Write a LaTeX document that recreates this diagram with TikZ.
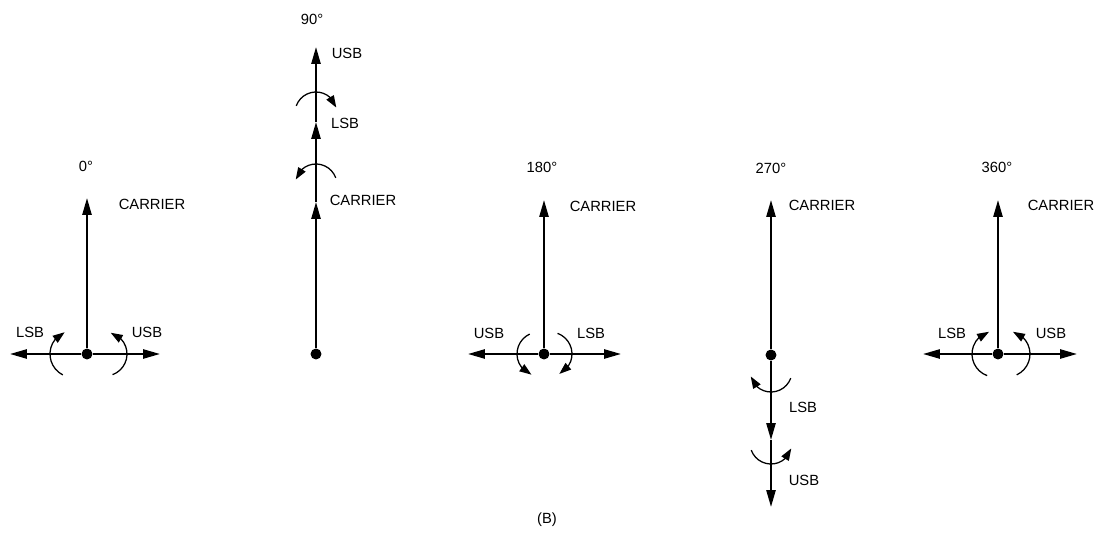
\documentclass[tikz,border=0pt]{standalone}
\usepackage{fontspec}
\setmainfont{Liberation Sans}
\usetikzlibrary{arrows.meta,bending}

\begin{document}
\begin{tikzpicture}[x=0.025cm,y=0.025cm,
  vec/.style={line width=1.4pt,-{Triangle[length=12pt,width=6.5pt]}},
  rot/.style={line width=0.9pt,-{Triangle[length=8.5pt,width=6pt,flex]}},
  lbl/.style={font=\fontsize{10.5}{12}\selectfont,inner sep=0pt},
  dot/.style={circle,fill,inner sep=0pt,minimum size=7.8pt}]
\useasboundingbox (0,0) rectangle (1101,542);

\node[dot] (o1) at (87,188) {};
\coordinate (c1) at (87,344);
\coordinate (l1) at (10,188);
\coordinate (u1) at (160,188);
\draw[vec] (o1) -- (c1);
\draw[vec] (o1) -- (l1);
\draw[vec] (o1) -- (u1);
\draw[rot] (73.5,188) ++(243:23.5) arc[start angle=243,end angle=112,radius=23.5];
\draw[rot] (105,188) ++(-70:22) arc[start angle=-70,end angle=75,radius=22];
\node[lbl] (deg1) at (86,376) {0°};
\node[lbl] (car1) at (152,338) {CARRIER};
\node[lbl] (lsb1) at (30,210) {LSB};
\node[lbl] (usb1) at (147,210) {USB};

\node[dot] (o2) at (316,188) {};
\coordinate (p2a) at (316,340);
\coordinate (p2b) at (316,420);
\coordinate (c2) at (316,495);
\draw[vec] (o2) -- (p2a);
\draw[vec] (p2a) -- (p2b);
\draw[vec] (p2b) -- (c2);
\draw[rot] (316,429) ++(160:21) arc[start angle=160,end angle=15,radius=21];
\draw[rot] (316,357) ++(20:21) arc[start angle=20,end angle=165,radius=21];
\node[lbl] (deg2) at (312,523) {90°};
\node[lbl] (usb2) at (347,489) {USB};
\node[lbl] (lsb2) at (345,419) {LSB};
\node[lbl] (car2) at (363,342) {CARRIER};

\node[dot] (o3) at (544,188) {};
\coordinate (c3) at (544,342);
\coordinate (l3) at (468,188);
\coordinate (u3) at (621,188);
\draw[vec] (o3) -- (c3);
\draw[vec] (o3) -- (l3);
\draw[vec] (o3) -- (u3);
\draw[rot] (539,188) ++(115:22) arc[start angle=115,end angle=250,radius=22];
\draw[rot] (550,188) ++(70:22) arc[start angle=70,end angle=-65,radius=22];
\node[lbl] (deg3) at (542,375) {180°};
\node[lbl] (car3) at (603,336) {CARRIER};
\node[lbl] (usb3) at (489,209) {USB};
\node[lbl] (lsb3) at (591,209) {LSB};

\node[dot] (o4) at (771,187) {};
\coordinate (c4) at (771,342);
\coordinate (p4a) at (771,102);
\coordinate (p4b) at (771,35);
\draw[vec] (o4) -- (c4);
\draw[vec] (o4) -- (p4a);
\draw[vec] (p4a) -- (p4b);
\draw[rot] (771,171) ++(-20:21) arc[start angle=-20,end angle=-165,radius=21];
\draw[rot] (771,99) ++(-160:21) arc[start angle=-160,end angle=-15,radius=21];
\node[lbl] (deg4) at (771,374) {270°};
\node[lbl] (car4) at (822,337) {CARRIER};
\node[lbl] (lsb4) at (803,135) {LSB};
\node[lbl] (usb4) at (804,62) {USB};

\node[dot] (o5) at (998,188) {};
\coordinate (c5) at (998,342);
\coordinate (l5) at (923,188);
\coordinate (u5) at (1077,188);
\draw[vec] (o5) -- (c5);
\draw[vec] (o5) -- (l5);
\draw[vec] (o5) -- (u5);
\draw[rot] (995,188) ++(250:23) arc[start angle=250,end angle=105,radius=23];
\draw[rot] (1007,188) ++(-65:23) arc[start angle=-65,end angle=75,radius=23];
\node[lbl] (deg5) at (997,375) {360°};
\node[lbl] (car5) at (1061,337) {CARRIER};
\node[lbl] (lsb5) at (952,209) {LSB};
\node[lbl] (usb5) at (1051,209) {USB};

\node[lbl] (cap) at (547,22) {(B)};
\end{tikzpicture}
\end{document}
